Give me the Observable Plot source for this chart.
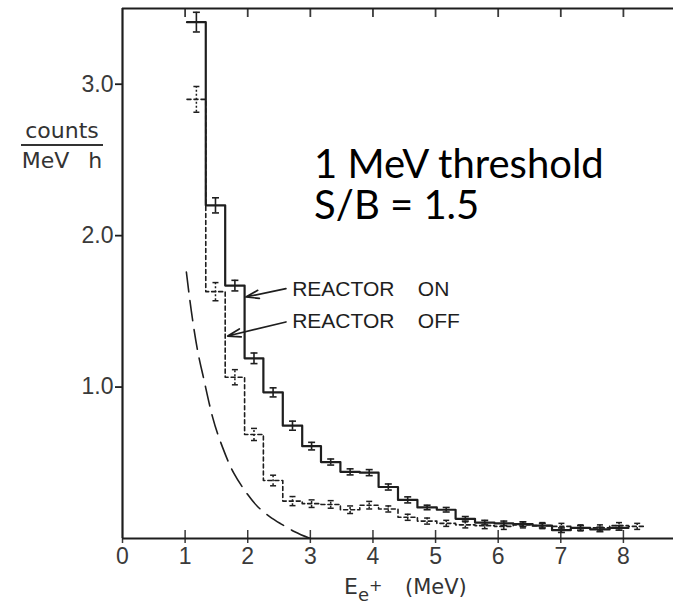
<!DOCTYPE html>
<html><head><meta charset="utf-8">
<script src="https://cdn.jsdelivr.net/npm/d3@7"></script>
<script src="https://cdn.jsdelivr.net/npm/@observablehq/plot@0.6"></script>
<style>
body{margin:0;background:#fff;}
#wrap{position:relative;width:673px;height:607px;}
#ylab{position:absolute;left:21px;top:119px;width:82px;text-align:center;font-family:"DejaVu Sans",sans-serif;font-size:22px;color:#333;white-space:nowrap;}
#ylab .num{border-bottom:2px solid #333;line-height:24px;padding-bottom:1px;}
#ylab .den{line-height:24px;margin-top:3px;word-spacing:12px;}
#xlab{position:absolute;left:344px;top:574px;font-family:"DejaVu Sans",sans-serif;font-size:22px;color:#333;line-height:24px;white-space:nowrap;width:140px;height:30px;}
#xlab sub{font-size:18px;vertical-align:-7px;}
#xlab sup{font-size:16px;vertical-align:10px;}
#xlab .unit{position:absolute;left:61px;top:1px;font-size:21px;}
g[aria-label="reactor"] text{letter-spacing:1.8px;}
</style></head><body><div id="wrap"></div>
<script>
// bin edges (MeV)
const binEdges = [1.03, 1.33, 1.64, 1.95, 2.25, 2.56, 2.87, 3.17, 3.48, 3.79, 4.09, 4.40, 4.71, 5.02, 5.32, 5.63, 5.94, 6.24, 6.55, 6.86, 7.16, 7.47, 7.78, 8.08, 8.36];
// REACTOR ON (counts / MeV h)
const reactorOn    = [3.41, 2.20, 1.67, 1.19, 0.965, 0.745, 0.61, 0.505, 0.44, 0.435, 0.34, 0.255, 0.205, 0.19, 0.13, 0.105, 0.10, 0.095, 0.085, 0.055, 0.07, 0.06, 0.07];
const reactorOnErr = [0.065, 0.05, 0.035, 0.035, 0.03, 0.03, 0.025, 0.02, 0.02, 0.02, 0.02, 0.02, 0.015, 0.015, 0.015, 0.015, 0.015, 0.015, 0.015, 0.015, 0.015, 0.015, 0.015];
// REACTOR OFF
const reactorOff    = [2.90, 1.63, 1.065, 0.687, 0.383, 0.247, 0.23, 0.225, 0.19, 0.22, 0.195, 0.14, 0.115, 0.10, 0.09, 0.085, 0.08, 0.09, 0.085, 0.08, 0.07, 0.07, 0.085, 0.08];
const reactorOffErr = [0.085, 0.06, 0.05, 0.04, 0.035, 0.03, 0.025, 0.025, 0.025, 0.025, 0.02, 0.02, 0.02, 0.02, 0.02, 0.02, 0.02, 0.02, 0.02, 0.02, 0.02, 0.02, 0.02, 0.02];
// threshold curve (long dashes)
const curveE = [1.02, 1.10, 1.20, 1.30, 1.44, 1.60, 1.78, 2.00, 2.16, 2.35, 2.53, 2.75, 3.00];
const curveV = [1.76, 1.50, 1.24, 1.05, 0.80, 0.60, 0.43, 0.29, 0.21, 0.145, 0.097, 0.045, 0.0];
// labels & arrows
const seriesLabels = ["REACTOR\u00a0\u00a0\u00a0\u00a0ON", "REACTOR\u00a0\u00a0\u00a0\u00a0OFF"];
const labelX = [2.71, 2.71];
const labelY = [1.647, 1.437];
const arrowFromX = [2.61, 2.61], arrowFromY = [1.65, 1.43];
const arrowToX = [1.97, 1.68], arrowToY = [1.595, 1.337];
const noteText = "1 MeV threshold\nS/B = 1.5";
const noteX = 3.06;
const noteY = 2.33;
const xTicks = [0, 1, 2, 3, 4, 5, 6, 7, 8];
const yTicks = [1, 2, 3];

const steps = (vals) => vals.map((v, i) => ({x: binEdges[i], y: v}))
  .concat([{x: binEdges[vals.length], y: vals[vals.length - 1]}]);
const errs = (vals, e) => vals.map((v, i) => ({x: (binEdges[i] + binEdges[i + 1]) / 2, lo: v - e[i], hi: v + e[i]}));
const onErr = errs(reactorOn, reactorOnErr);
const offErr = errs(reactorOff, reactorOffErr);
const curve = curveE.map((e, i) => ({x: e, y: curveV[i]}));
const labels = seriesLabels.map((t, i) => ({t, x: labelX[i], y: labelY[i]}));
const arrows = arrowFromX.map((x, i) => ({x1: x, y1: arrowFromY[i], x2: arrowToX[i], y2: arrowToY[i]}));
const notes = [{t: noteText, x: noteX, y: noteY}];
const cap = {draw(ctx, size) { const r = Math.sqrt(size / Math.PI); ctx.moveTo(-r, 0); ctx.lineTo(r, 0); }};
const ink = "#1e1e1e";
const tickFont = "Liberation Sans, Arial, sans-serif";

const chart = Plot.plot({
  width: 673, height: 607,
  marginLeft: 122, marginRight: 0, marginTop: 8, marginBottom: 69,
  x: {domain: [0, 8.8]},
  y: {domain: [0, 3.5]},
  style: {fontFamily: tickFont, fontSize: "23px", color: "#3a3a3a", background: "#fff"},
  marks: [
    Plot.axisY({ticks: yTicks, tickSize: 7, tickPadding: 2, tickFormat: d3.format(".1f"), label: null, fontSize: 23, stroke: ink, strokeWidth: 1.8}),
    Plot.axisX({ticks: xTicks, tickSize: 5, tickPadding: 4, label: null, fontSize: 23, tickFormat: d => String(d), strokeWidth: 1.5}),
    Plot.axisX({ticks: xTicks.slice(1), tickSize: -8, tickFormat: () => "", label: null, strokeWidth: 1.5}),
    Plot.axisX({anchor: "top", ticks: xTicks.slice(1), tickSize: -8, tickFormat: () => "", label: null, strokeWidth: 1.8}),
    Plot.ruleX([0], {stroke: ink, strokeWidth: 2.2}),
    Plot.ruleY([0], {stroke: ink, strokeWidth: 2}),
    Plot.ruleY([3.5], {stroke: ink, strokeWidth: 2.2}),
    // threshold curve
    Plot.line(curve, {x: "x", y: "y", curve: "natural", stroke: ink, strokeWidth: 1.6, strokeDasharray: "20,9"}),
    // reactor off
    Plot.line(steps(reactorOff), {x: "x", y: "y", curve: "step-after", stroke: ink, strokeWidth: 1.6, strokeDasharray: "4,3"}),
    Plot.ruleX(offErr, {x: "x", y1: "lo", y2: "hi", stroke: ink, strokeWidth: 1.5, strokeDasharray: "2,2"}),
    Plot.dot(offErr, {x: "x", y: "lo", symbol: cap, r: 3, fill: "none", stroke: ink, strokeWidth: 1.5}),
    Plot.dot(offErr, {x: "x", y: "hi", symbol: cap, r: 3, fill: "none", stroke: ink, strokeWidth: 1.5}),
    // reactor on
    Plot.line(steps(reactorOn), {x: "x", y: "y", curve: "step-after", stroke: ink, strokeWidth: 2.2}),
    Plot.ruleX(onErr, {x: "x", y1: "lo", y2: "hi", stroke: ink, strokeWidth: 1.6}),
    Plot.dot(onErr, {x: "x", y: "lo", symbol: cap, r: 3.5, fill: "none", stroke: ink, strokeWidth: 1.6}),
    Plot.dot(onErr, {x: "x", y: "hi", symbol: cap, r: 3.5, fill: "none", stroke: ink, strokeWidth: 1.6}),
    // arrows & labels
    Plot.arrow(arrows, {x1: "x1", y1: "y1", x2: "x2", y2: "y2", stroke: ink, strokeWidth: 1.7, headLength: 12, headAngle: 35}),
    Plot.text(labels, {x: "x", y: "y", text: "t", textAnchor: "start", fontSize: 21, fontFamily: tickFont, fill: ink, ariaLabel: "reactor"}),
    Plot.text(notes, {x: "x", y: "y", text: "t", textAnchor: "start", lineAnchor: "middle", lineHeight: 1.02, fontSize: 40, fill: "#000", fontFamily: "Lato, sans-serif"})
  ]
});
const wrap = document.getElementById("wrap");
wrap.appendChild(chart);
const yl = document.createElement("div");
yl.id = "ylab";
yl.innerHTML = '<div class="num">counts</div><div class="den">MeV h</div>';
wrap.appendChild(yl);
const xl = document.createElement("div");
xl.id = "xlab";
xl.innerHTML = 'E<sub>e<sup>+</sup></sub><span class="unit">(MeV)</span>';
wrap.appendChild(xl);
</script>
</body></html>
